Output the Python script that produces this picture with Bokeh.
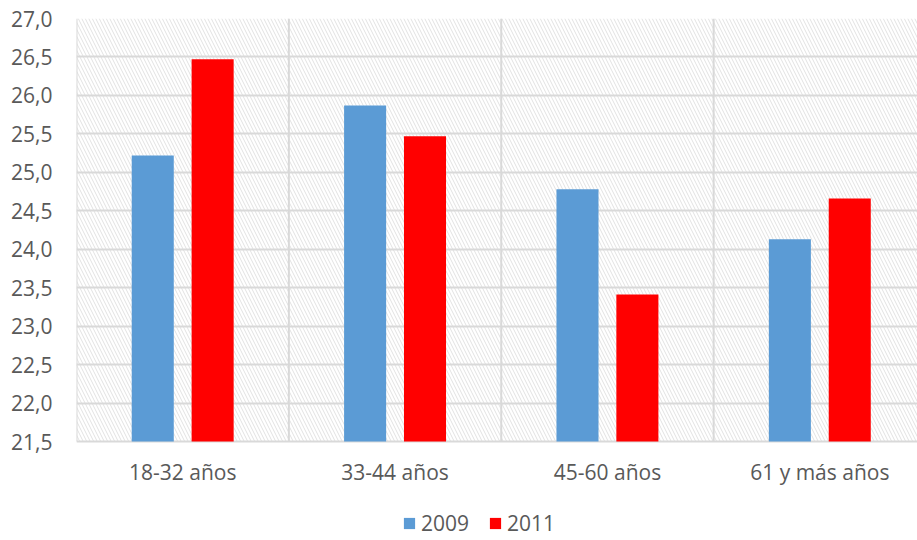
from bokeh.plotting import figure
from bokeh.models import (Range1d, FixedTicker, BoxAnnotation, ColumnDataSource,
                          Legend, LegendItem, LabelSet)
from bokeh.core.properties import value
from bokeh.transform import dodge
from bokeh.embed import file_html
from bokeh.resources import INLINE

# Age groups and average values per survey year
categories = ["18-32 años", "33-44 años", "45-60 años", "61 y más años"]
values_2009 = [25.22, 25.87, 24.78, 24.13]
values_2011 = [26.47, 25.47, 23.41, 24.66]
y_ticks = [21.5, 22.0, 22.5, 23.0, 23.5, 24.0, 24.5, 25.0, 25.5, 26.0, 26.5, 27.0]

FONT = "Open Sans"
TEXT_COLOR = "#595959"
GRID_COLOR = "#d9d9d9"
BASE, TOP = y_ticks[0], y_ticks[-1]

W, H = 917, 540
TOP_PX, BASE_PX = 18, 441          # screen rows of the value range
px_per_unit = (BASE_PX - TOP_PX) / (TOP - BASE)
y_start = BASE - (H - BASE_PX) / px_per_unit   # frame runs to the page bottom (room for labels/legend)

centers = [i + 0.5 for i in range(len(categories))]
boundaries = list(range(len(categories) + 1))
source = ColumnDataSource(dict(x=centers, cat=categories, v2009=values_2009, v2011=values_2011))

p = figure(width=W, height=H, output_backend="svg", toolbar_location=None,
           x_range=Range1d(0, 3.96), y_range=Range1d(y_start, TOP),
           min_border_left=76, min_border_right=0, min_border_top=TOP_PX, min_border_bottom=0)
p.outline_line_color = None
p.background_fill_color = "white"
p.border_fill_color = "white"
p.xaxis.visible = False

# hatched plot-area background
p.add_layout(BoxAnnotation(bottom=BASE, fill_color="white", fill_alpha=1, line_color=None,
                           hatch_pattern="\\", hatch_color="#e2e2e2", hatch_weight=1,
                           hatch_scale=7, level="image"))

# grid: horizontal at every tick, vertical at category boundaries
p.xgrid.visible = False
p.ygrid.ticker = FixedTicker(ticks=y_ticks)
p.ygrid.grid_line_color = GRID_COLOR
p.ygrid.grid_line_width = 2
p.segment(x0=boundaries, y0=BASE, x1=boundaries, y1=TOP, line_color=GRID_COLOR,
          line_width=2, level="underlay")

r09 = p.vbar(x=dodge("x", -0.141, range=p.x_range), top="v2009", bottom=BASE, width=0.198,
             source=source, fill_color="#5B9BD5", line_color=None)
r11 = p.vbar(x=dodge("x", 0.141, range=p.x_range), top="v2011", bottom=BASE, width=0.198,
             source=source, fill_color="#FF0000", line_color=None)

# value axis
p.yaxis.ticker = FixedTicker(ticks=y_ticks)
p.yaxis.major_label_overrides = {t: f"{t:.1f}".replace(".", ",") for t in y_ticks}
p.yaxis.axis_line_color = None
p.yaxis.major_tick_line_color = None
p.yaxis.minor_tick_line_color = None
p.yaxis.major_label_text_font = FONT
p.yaxis.major_label_text_font_size = "21px"
p.yaxis.major_label_text_color = TEXT_COLOR
p.yaxis.major_label_standoff = 18

# category labels under the bars
p.add_layout(LabelSet(x="x", y=BASE, y_offset=-30, text="cat", source=source,
                      text_align="center", text_baseline="middle", text_font=value(FONT),
                      text_font_size=value("21px"), text_color=TEXT_COLOR))

legend = Legend(items=[LegendItem(label="2009", renderers=[r09]),
                       LegendItem(label="2011", renderers=[r11])],
                orientation="horizontal", location=(326, 3),
                glyph_width=14, glyph_height=14, label_standoff=5, spacing=19,
                padding=0, margin=0, border_line_color=None, background_fill_alpha=0,
                label_text_font=FONT, label_text_font_size="21px",
                label_text_color=TEXT_COLOR)
p.add_layout(legend, "center")

open("out.html", "w").write(file_html(p, INLINE))
